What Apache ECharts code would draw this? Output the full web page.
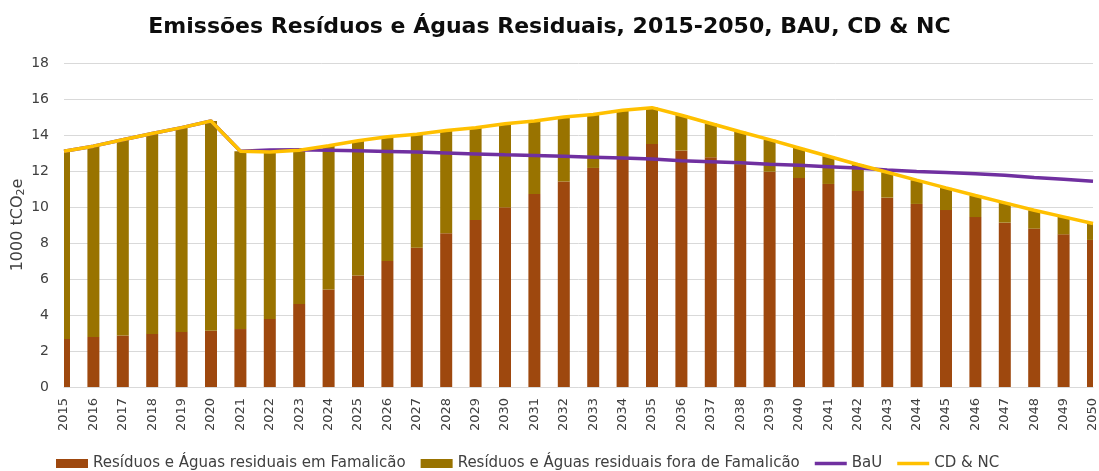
<!DOCTYPE html>
<html><head><meta charset="utf-8">
<script src="https://cdn.jsdelivr.net/npm/echarts@6/dist/echarts.min.js"></script>
<style>html,body{margin:0;padding:0;background:#fff}#c{width:1099px;height:471px}</style>
</head><body><div id="c"></div>
<script>
const years = ['2015','2016','2017','2018','2019','2020','2021','2022','2023','2024','2025','2026','2027','2028','2029','2030','2031','2032','2033','2034','2035','2036','2037','2038','2039','2040','2041','2042','2043','2044','2045','2046','2047','2048','2049','2050'];
const inFamalicao = [2.67,2.78,2.86,2.95,3.06,3.12,3.22,3.78,4.61,5.41,6.2,7.0,7.74,8.54,9.28,9.98,10.72,11.41,12.17,12.7,13.5,13.13,12.76,12.33,11.96,11.61,11.28,10.89,10.52,10.17,9.83,9.44,9.13,8.8,8.48,8.17];
const totals = [13.1,13.38,13.74,14.08,14.41,14.78,13.1,13.05,13.15,13.4,13.68,13.9,14.04,14.25,14.4,14.62,14.78,15.0,15.14,15.38,15.52,15.1,14.64,14.18,13.74,13.28,12.82,12.36,11.93,11.49,11.06,10.64,10.23,9.82,9.45,9.08];
const outsideFamalicao = totals.map((t, i) => +(t - inFamalicao[i]).toFixed(2));
const bau = [13.1,13.38,13.74,14.08,14.41,14.78,13.1,13.17,13.18,13.15,13.12,13.09,13.05,13.0,12.95,12.9,12.86,12.82,12.77,12.72,12.66,12.57,12.52,12.46,12.38,12.32,12.24,12.16,12.06,11.97,11.92,11.85,11.76,11.64,11.54,11.43];
const cdnc = totals;

const font = 'DejaVu Sans';
const BAR_W = 12;

// stacked segments built from the arrays: [categoryIndex, bottom, top]
const segLow = inFamalicao.map((v, i) => [i, 0, v]);
const segHigh = outsideFamalicao.map((v, i) => [i, inFamalicao[i], inFamalicao[i] + v]);

function renderBar(params, api) {
  const x = api.value(0);
  const p0 = api.coord([x, api.value(1)]);
  const p1 = api.coord([x, api.value(2)]);
  const cs = params.coordSys;
  const r = echarts.graphic.clipRectByRect(
    {x: p0[0] - BAR_W / 2, y: p1[1], width: BAR_W, height: p0[1] - p1[1]},
    {x: cs.x, y: cs.y, width: cs.width, height: cs.height});
  return r && {type: 'rect', shape: r, style: api.style()};
}

const lineIcon = 'path://M0,0H32V3.5H0Z';

const chart = echarts.init(document.getElementById('c'), null, {renderer: 'canvas'});
chart.setOption({
  animation: false,
  textStyle: {fontFamily: font},
  title: {
    text: 'Emissões Resíduos e Águas Residuais, 2015-2050, BAU, CD & NC',
    left: 'center', top: 11,
    textStyle: {fontFamily: font, fontWeight: 'bold', fontSize: 22, color: '#0d0d0d'}
  },
  legend: {
    top: 451, left: 51,
    itemWidth: 32, itemHeight: 9, itemGap: 15,
    textStyle: {fontFamily: font, fontSize: 15, color: '#404040'},
    data: [
      {name: 'Resíduos e Águas residuais em Famalicão', icon: 'rect'},
      {name: 'Resíduos e Águas residuais fora de Famalicão', icon: 'rect'},
      {name: 'BaU', icon: lineIcon},
      {name: 'CD & NC', icon: lineIcon}
    ]
  },
  grid: {left: 64, right: 6, top: 63, bottom: 84, containLabel: false, outerBoundsMode: 'none'},
  xAxis: {
    type: 'category', data: years, boundaryGap: false,
    axisLine: {lineStyle: {color: '#d9d9d9', width: 1}},
    axisTick: {show: false},
    axisLabel: {rotate: 90, fontSize: 13, color: '#404040', margin: 11, interval: 0}
  },
  yAxis: {
    type: 'value', min: 0, max: 18, interval: 2,
    name: '1000 tCO{sub|2}e',
    nameLocation: 'middle', nameGap: 37, nameMoveOverlap: false,
    nameTextStyle: {fontSize: 16, color: '#404040', rich: {sub: {fontSize: 11, verticalAlign: 'bottom', padding: [8,0,0,0], color: '#404040'}}},
    axisLine: {show: false}, axisTick: {show: false},
    axisLabel: {fontSize: 14, color: '#404040', margin: 15},
    splitLine: {lineStyle: {color: '#d9d9d9', width: 1}}
  },
  series: [
    {name: 'Resíduos e Águas residuais em Famalicão', type: 'custom', renderItem: renderBar, data: segLow,
     encode: {x: 0, y: [1, 2]}, itemStyle: {color: '#9E480E'}, z: 2},
    {name: 'Resíduos e Águas residuais fora de Famalicão', type: 'custom', renderItem: renderBar, data: segHigh,
     encode: {x: 0, y: [1, 2]}, itemStyle: {color: '#997300'}, z: 2},
    {name: 'BaU', type: 'line', data: bau, symbol: 'none', lineStyle: {color: '#7030A0', width: 3.5}, itemStyle: {color: '#7030A0'}, z: 3},
    {name: 'CD & NC', type: 'line', data: cdnc, symbol: 'none', lineStyle: {color: '#FFC000', width: 3.5}, itemStyle: {color: '#FFC000'}, z: 4}
  ]
});
</script></body></html>
